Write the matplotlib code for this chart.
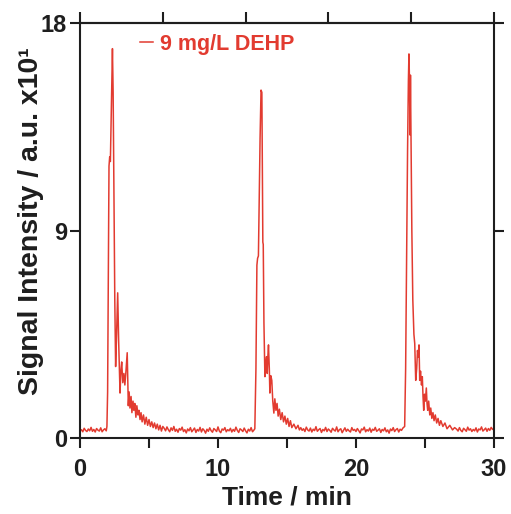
import numpy as np
import matplotlib
matplotlib.use("Agg")
import matplotlib.pyplot as plt

plt.rcParams['font.family'] = ['Liberation Sans', 'DejaVu Sans']
plt.rcParams['font.weight'] = 'bold'

RED = '#e23b30'
DARK = '#1e1e1e'

# ---------------- data ----------------
base1_t = np.round(np.arange(0.0, 1.95, 0.1), 2)
base1_v = [0.30, 0.36, 0.27, 0.42, 0.33, 0.28, 0.39, 0.31, 0.46, 0.29,
           0.37, 0.26, 0.41, 0.34, 0.30, 0.44, 0.27, 0.35, 0.40, 0.31]

peak1_t = [1.95, 2.0, 2.05, 2.1, 2.15, 2.2, 2.28, 2.35, 2.4, 2.45, 2.52, 2.58,
           2.65, 2.73, 2.8, 2.9, 2.96, 3.02, 3.1, 3.18, 3.25, 3.33, 3.42, 3.5,
           3.56, 3.62, 3.7, 3.76, 3.84, 3.9, 3.97, 4.05, 4.12, 4.2, 4.27, 4.35,
           4.42, 4.5, 4.6, 4.7, 4.8, 4.9, 5.0, 5.1, 5.2, 5.3, 5.4, 5.5, 5.6,
           5.7, 5.8, 5.9, 6.0]
peak1_v = [0.5, 2.0, 7.0, 11.8, 12.2, 12.0, 14.5, 16.9, 15.0, 11.0, 6.0, 3.1,
           4.5, 6.3, 4.2, 1.95, 2.9, 3.3, 2.4, 2.8, 2.3, 2.9, 3.7, 1.4,
           2.0, 1.3, 1.8, 1.1, 1.6, 1.2, 1.5, 0.9, 1.4, 1.0, 1.2, 0.8,
           1.1, 0.7, 1.0, 0.6, 0.9, 0.55, 0.8, 0.5, 0.7, 0.45, 0.65, 0.4, 0.6,
           0.35, 0.55, 0.3, 0.5]

base2_t = np.round(np.arange(6.1, 12.65, 0.1), 2)
base2_v = [0.42, 0.31, 0.48, 0.36, 0.27, 0.44, 0.33, 0.50, 0.29, 0.38,
           0.25, 0.41, 0.34, 0.47, 0.28, 0.36, 0.22, 0.39, 0.31, 0.45,
           0.27, 0.35, 0.43, 0.24, 0.37, 0.30, 0.46, 0.26, 0.40, 0.33,
           0.21, 0.38, 0.29, 0.44, 0.32, 0.25, 0.41, 0.35, 0.28, 0.48,
           0.30, 0.23, 0.39, 0.34, 0.45, 0.27, 0.36, 0.31, 0.42, 0.26,
           0.37, 0.29, 0.47, 0.33, 0.24, 0.40, 0.35, 0.28, 0.43, 0.31,
           0.22, 0.38, 0.30, 0.45, 0.27, 0.34]

peak2_t = [12.67, 12.75, 12.82, 12.87, 12.93, 12.98, 13.05, 13.12, 13.18, 13.22,
           13.25, 13.28, 13.33, 13.4, 13.46, 13.52, 13.57, 13.62, 13.66, 13.72,
           13.76, 13.83, 13.9, 13.97, 14.05, 14.12, 14.2, 14.28, 14.36, 14.45,
           14.55, 14.65, 14.75, 14.85, 14.95, 15.05, 15.15, 15.25, 15.35, 15.5,
           15.65, 15.8, 15.9]
peak2_v = [0.4, 3.0, 7.5, 7.8, 7.9, 10.0, 13.0, 15.1, 15.0, 11.0,
           8.5, 8.4, 5.0, 2.66, 3.2, 3.53, 2.8, 3.6, 4.04, 3.0,
           1.95, 2.7, 2.5, 1.6, 1.08, 1.7, 1.2, 1.5, 0.95, 1.25,
           0.8, 1.1, 0.7, 0.95, 0.6, 0.85, 0.5, 0.75, 0.45, 0.6,
           0.4, 0.55, 0.35]

base3_t = np.round(np.arange(16.0, 23.45, 0.1), 2)
base3_v = [0.45, 0.33, 0.40, 0.28, 0.47, 0.35, 0.30, 0.43, 0.26, 0.38,
           0.32, 0.49, 0.29, 0.36, 0.41, 0.24, 0.37, 0.31, 0.46, 0.28,
           0.39, 0.33, 0.25, 0.42, 0.35, 0.30, 0.48, 0.27, 0.36, 0.40,
           0.23, 0.34, 0.44, 0.29, 0.38, 0.31, 0.26, 0.45, 0.33, 0.37,
           0.28, 0.41, 0.32, 0.22, 0.39, 0.35, 0.47, 0.27, 0.36, 0.30,
           0.43, 0.25, 0.38, 0.33, 0.46, 0.29, 0.34, 0.40, 0.24, 0.37,
           0.31, 0.44, 0.27, 0.35, 0.21, 0.39, 0.32, 0.45, 0.28, 0.36,
           0.41, 0.26, 0.38, 0.33, 0.43]

peak3_t = [23.53, 23.6, 23.67, 23.74, 23.8, 23.84, 23.88, 23.92, 23.95, 23.99,
           24.05, 24.12, 24.2, 24.26, 24.33, 24.4, 24.46, 24.52, 24.57, 24.62,
           24.68, 24.75, 24.81, 24.86, 24.91, 24.97, 25.03, 25.1, 25.15, 25.2,
           25.27, 25.35, 25.42, 25.5, 25.58, 25.66, 25.75, 25.85, 25.95, 26.05,
           26.15, 26.3, 26.45, 26.6, 26.8, 27.0, 27.15]
peak3_v = [0.5, 3.0, 8.0, 12.5, 15.5, 16.67, 15.5, 13.15, 15.75, 13.0,
           9.0, 6.0, 4.5, 4.1, 2.5, 3.0, 3.8, 3.5, 4.04, 2.5,
           2.9, 2.3, 2.66, 1.8, 1.2, 1.9, 1.6, 2.17, 1.5, 1.2,
           1.6, 1.0, 1.3, 0.85, 1.1, 0.75, 1.0, 0.65, 0.85, 0.55,
           0.75, 0.5, 0.65, 0.4, 0.55, 0.35, 0.45]

base4_t = np.round(np.arange(27.3, 30.05, 0.1), 2)
base4_v = [0.38, 0.30, 0.45, 0.33, 0.27, 0.42, 0.36, 0.29, 0.47, 0.34,
           0.40, 0.28, 0.37, 0.31, 0.44, 0.26, 0.39, 0.35, 0.48, 0.30,
           0.36, 0.43, 0.29, 0.41, 0.33, 0.46, 0.37, 0.42]

series_label = '9 mg/L DEHP'
x_ticks = [0, 10, 20, 30]
x_minor = [5, 15, 25]
x_top_ticks = [0, 6, 12, 18, 24, 30]
y_ticks = [0, 9, 18]

time = np.concatenate([base1_t, peak1_t, base2_t, peak2_t, base3_t, peak3_t, base4_t])
signal = np.concatenate([base1_v, peak1_v, base2_v, peak2_v, base3_v, peak3_v, base4_v])

# ---------------- figure ----------------
fig = plt.figure(figsize=(5.11, 5.14), dpi=100)
ax = fig.add_axes([0.1566, 0.1479, 0.81, 0.8068])

ax.plot(time, signal, color=RED, lw=1.1, label=series_label)

ax.set_xlim(0, 30)
ax.set_ylim(0, 18)
ax.set_xticks(x_ticks)
ax.set_xticks(x_minor, minor=True)
ax.set_yticks(y_ticks)

for s in ax.spines.values():
    s.set_linewidth(1.5)
    s.set_color(DARK)

ax.tick_params(axis='both', which='both', direction='out', length=7.5, width=1.5,
               color=DARK, labelsize=17, labelcolor=DARK)
ax.tick_params(axis='y', right=True, pad=2)
ax.tick_params(axis='x', which='both', top=False, pad=7)

top = ax.secondary_xaxis('top')
top.set_xticks(x_top_ticks)
top.tick_params(direction='out', length=8, width=1.5, color=DARK, labeltop=False)
top.spines['top'].set_linewidth(1.5)
top.spines['top'].set_color(DARK)

ax.set_xlabel('Time / min', fontsize=19, fontweight='bold', color=DARK, labelpad=3)
ax.set_ylabel('Signal Intensity / a.u. x10\u00b9', fontsize=20.5, fontweight='bold',
              color=DARK)
ax.yaxis.set_label_coords(-0.086, 0.523)

leg = ax.legend(loc='center left', bbox_to_anchor=(0.145, 0.95), frameon=False,
                handlelength=0.6, handletextpad=0.35, borderpad=0, borderaxespad=0,
                prop={'size': 15.5, 'weight': 'bold'}, labelcolor=RED)

fig.savefig('out.png', dpi=100)
